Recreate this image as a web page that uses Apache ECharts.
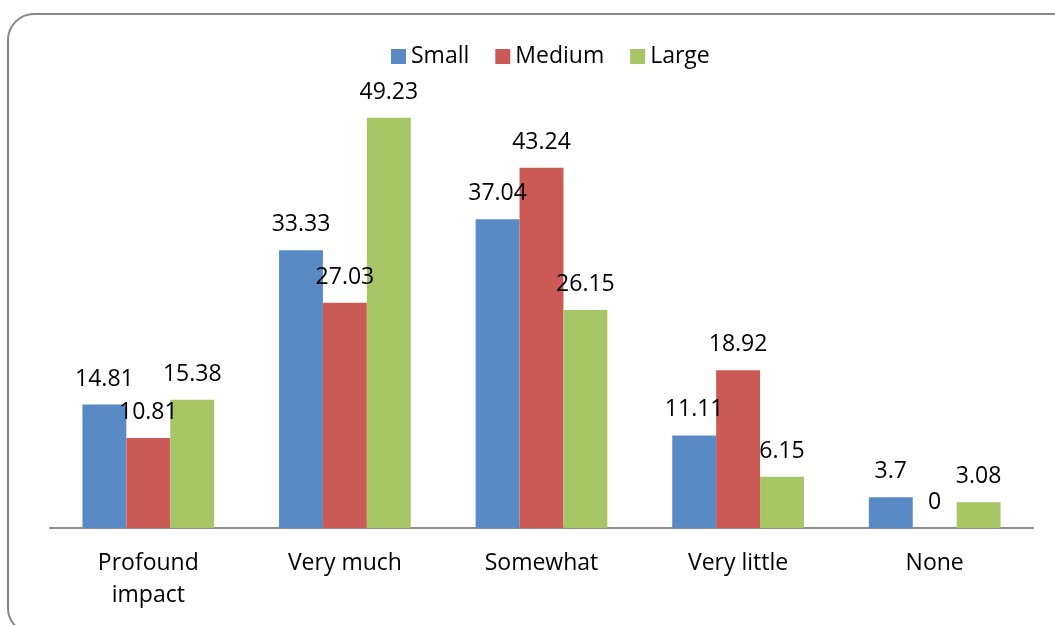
<!DOCTYPE html>
<html>
<head>
<meta charset="utf-8">
<style>
  html, body { margin: 0; padding: 0; background: #ffffff; }
  #chart { width: 1055px; height: 625px; }
</style>
<script src="https://cdn.jsdelivr.net/npm/echarts@6/dist/echarts.min.js"></script>
</head>
<body>
<div id="chart"></div>
<script>
// Degree of impact, by organisation size (percent)
const categories = ['Profound\nimpact', 'Very much', 'Somewhat', 'Very little', 'None'];
const small  = [14.81, 33.33, 37.04, 11.11, 3.7];
const medium = [10.81, 27.03, 43.24, 18.92, 0];
const large  = [15.38, 49.23, 26.15, 6.15, 3.08];

const seriesNames = ['Small', 'Medium', 'Large'];
const colors = ['#5A8AC6', '#CB5A56', '#A6C564'];
const FONT = '"Open Sans", "Noto Sans", sans-serif';
const FONT_SIZE = 23;

const chart = echarts.init(document.getElementById('chart'), null, { renderer: 'canvas' });

function barSeries(name, data, color) {
  return {
    name: name,
    type: 'bar',
    data: data,
    barGap: '0%',
    barCategoryGap: '33%',
    itemStyle: { color: color },
    label: {
      show: true,
      position: 'top',
      distance: 14,
      color: '#000',
      fontFamily: FONT,
      fontSize: FONT_SIZE
    }
  };
}

chart.setOption({
  animation: false,
  backgroundColor: '#ffffff',
  color: colors,
  graphic: [{
    type: 'rect',
    z: -1,
    shape: { x: 8, y: 14, width: 1070, height: 620, r: 26 },
    style: { fill: 'none', stroke: '#878787', lineWidth: 2 }
  }],
  legend: {
    data: seriesNames,
    top: 40,
    left: 386,
    itemWidth: 15,
    itemHeight: 15,
    itemGap: 26,
    icon: 'rect',
    textStyle: { fontFamily: FONT, fontSize: FONT_SIZE, color: '#000' }
  },
  grid: { left: 50, right: 22, top: 28, bottom: 97, containLabel: false },
  xAxis: {
    type: 'category',
    data: categories,
    axisLine: { lineStyle: { color: '#8c8c8c', width: 2 } },
    axisTick: { show: false },
    axisLabel: {
      color: '#000',
      fontFamily: FONT,
      fontSize: FONT_SIZE,
      lineHeight: 32,
      margin: 19,
      interval: 0
    }
  },
  yAxis: {
    type: 'value',
    min: 0,
    max: 60,
    show: false,
    splitLine: { show: false }
  },
  series: [
    barSeries(seriesNames[0], small, colors[0]),
    barSeries(seriesNames[1], medium, colors[1]),
    barSeries(seriesNames[2], large, colors[2])
  ]
});
</script>
</body>
</html>
